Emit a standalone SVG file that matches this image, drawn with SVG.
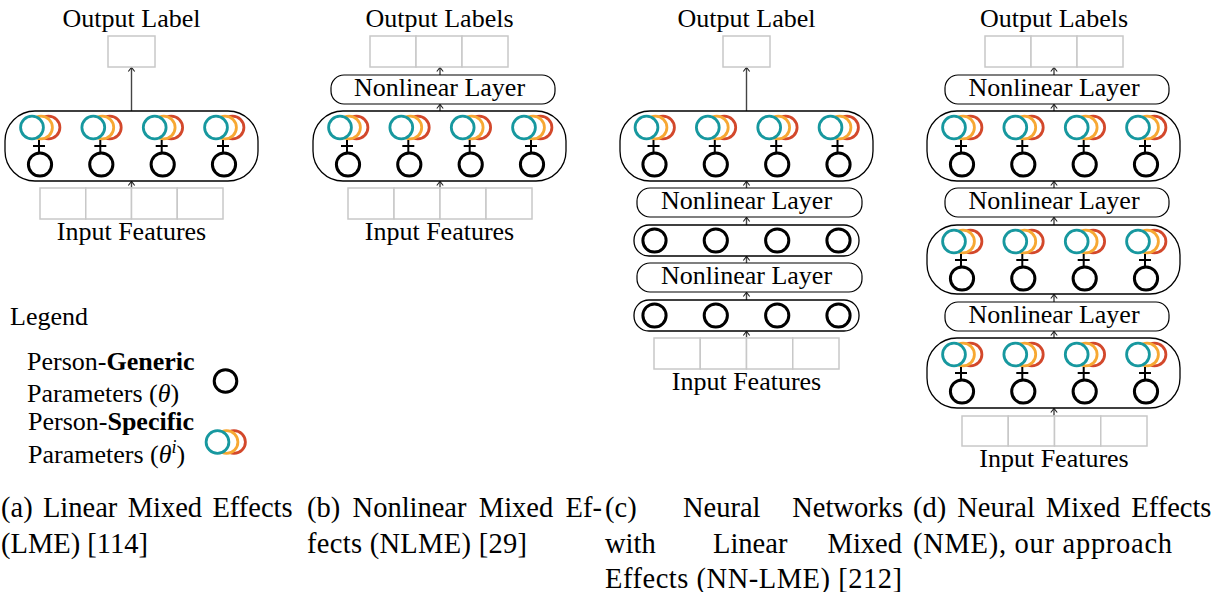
<svg xmlns="http://www.w3.org/2000/svg" xmlns:xlink="http://www.w3.org/1999/xlink" width="1217" height="592" viewBox="0 0 1217 592">
<style>
text{font-family:"Liberation Serif","Times New Roman",serif;fill:#000}
.lbl{font-size:26px;text-anchor:middle}
.leg{font-size:26px}
.cap{font-size:28.5px}
.box{fill:#fff;stroke:#c8c8c8;stroke-width:1.5}
.cap-shape{fill:#fff;stroke:#000;stroke-width:1.3}
.nl{fill:#fff;stroke:#000;stroke-width:1.2}
.arr{stroke:#444;stroke-width:1.4;fill:none;marker-end:url(#ah)}
.gen{fill:#fff;stroke:#000;stroke-width:3}
.t{fill:#fff;stroke:#17989f;stroke-width:2.8}
.o{fill:#fff;stroke:#f7a833;stroke-width:2.8}
.r{fill:#fff;stroke:#d3482b;stroke-width:2.8}
</style>
<defs>
<marker id="ah" viewBox="-6 -5 8 10" markerWidth="8" markerHeight="10" refX="0" refY="0" orient="auto" markerUnits="userSpaceOnUse">
<path d="M-4,-3.2 L0,0 L-4,3.2" fill="none" stroke="#222" stroke-width="1.1"/>
</marker>
<g id="spec">
<circle class="r" cx="8.5" cy="0" r="11.4"/>
<circle class="o" cx="1" cy="0" r="11.4"/>
<circle class="t" cx="-8" cy="0" r="11.4"/>
</g>
<g id="pair">
<use xlink:href="#spec" x="0" y="-37"/>
<line x1="-1" y1="-24.5" x2="-1" y2="-12" stroke="#000" stroke-width="2"/>
<line x1="-7" y1="-18.5" x2="5" y2="-18.5" stroke="#000" stroke-width="2"/>
<circle class="gen" cx="0" cy="0" r="11.6"/>
</g>
</defs>

<g id="connectors">
<line class="arr" x1="131.5" y1="111" x2="131.5" y2="67.5"/>
<line class="arr" x1="131.5" y1="219" x2="131.5" y2="181.5"/>
<line class="arr" x1="440" y1="75" x2="440" y2="67.5"/>
<line class="arr" x1="440" y1="111" x2="440" y2="104.5"/>
<line class="arr" x1="440" y1="219" x2="440" y2="181.5"/>
<line class="arr" x1="746.5" y1="111" x2="746.5" y2="67.5"/>
<line class="arr" x1="746.5" y1="188" x2="746.5" y2="181.5"/>
<line class="arr" x1="746.5" y1="225" x2="746.5" y2="217.5"/>
<line class="arr" x1="746.5" y1="263" x2="746.5" y2="256.5"/>
<line class="arr" x1="746.5" y1="300" x2="746.5" y2="292.5"/>
<line class="arr" x1="746.5" y1="369" x2="746.5" y2="331.5"/>
<line class="arr" x1="1054" y1="75" x2="1054" y2="67.5"/>
<line class="arr" x1="1054" y1="111" x2="1054" y2="104.5"/>
<line class="arr" x1="1054" y1="188" x2="1054" y2="181.5"/>
<line class="arr" x1="1054" y1="225" x2="1054" y2="217.5"/>
<line class="arr" x1="1054" y1="302" x2="1054" y2="294.5"/>
<line class="arr" x1="1054" y1="338" x2="1054" y2="331.5"/>
<line class="arr" x1="1054" y1="446" x2="1054" y2="408.5"/>
</g>

<!-- Panel (a) -->
<g id="a-output">
<text class="lbl" x="131.5" y="27">Output Label</text>
<rect class="box" x="108" y="36" width="47" height="31"/>
</g>
<g id="a-me">
<rect class="cap-shape" x="5" y="111" width="253" height="70" rx="30" ry="30"/>
<use xlink:href="#pair" x="40" y="164.5"/>
<use xlink:href="#pair" x="101.3" y="164.5"/>
<use xlink:href="#pair" x="162.7" y="164.5"/>
<use xlink:href="#pair" x="224" y="164.5"/>
</g>
<g id="a-input">
<rect class="box" x="40" y="188" width="45.75" height="31"/>
<rect class="box" x="85.75" y="188" width="45.75" height="31"/>
<rect class="box" x="131.5" y="188" width="45.75" height="31"/>
<rect class="box" x="177.25" y="188" width="45.75" height="31"/>
<text class="lbl" x="131.5" y="240">Input Features</text>
</g>

<!-- Panel (b) -->
<g id="b-output">
<text class="lbl" x="439.5" y="27">Output Labels</text>
<rect class="box" x="370" y="36" width="46" height="31"/>
<rect class="box" x="416" y="36" width="46" height="31"/>
<rect class="box" x="462" y="36" width="46" height="31"/>
</g>
<g id="b-nl">
<rect class="nl" x="331" y="75" width="224" height="29" rx="13"/>
<text class="lbl" x="439.5" y="96">Nonlinear Layer</text>
</g>
<g id="b-me">
<rect class="cap-shape" x="313" y="111" width="253" height="70" rx="30" ry="30"/>
<use xlink:href="#pair" x="348" y="164.5"/>
<use xlink:href="#pair" x="409.3" y="164.5"/>
<use xlink:href="#pair" x="470.7" y="164.5"/>
<use xlink:href="#pair" x="532" y="164.5"/>
</g>
<g id="b-input">
<rect class="box" x="348" y="188" width="46" height="31"/>
<rect class="box" x="394" y="188" width="46" height="31"/>
<rect class="box" x="440" y="188" width="46" height="31"/>
<rect class="box" x="486" y="188" width="46" height="31"/>
<text class="lbl" x="439.5" y="240">Input Features</text>
</g>

<!-- Panel (c) -->
<g id="c-output">
<text class="lbl" x="746.5" y="27">Output Label</text>
<rect class="box" x="723" y="36" width="47" height="31"/>
</g>
<g id="c-me">
<rect class="cap-shape" x="620" y="111" width="253" height="70" rx="30" ry="30"/>
<use xlink:href="#pair" x="654.5" y="164.5"/>
<use xlink:href="#pair" x="715.8" y="164.5"/>
<use xlink:href="#pair" x="777.2" y="164.5"/>
<use xlink:href="#pair" x="838.5" y="164.5"/>
</g>
<g id="c-nl1">
<rect class="nl" x="637" y="188" width="225" height="29" rx="13"/>
<text class="lbl" x="746.5" y="209">Nonlinear Layer</text>
</g>
<g id="c-gen1">
<rect class="cap-shape" x="634" y="225" width="225" height="31" rx="15"/>
<circle class="gen" cx="654.5" cy="240.5" r="11.6"/>
<circle class="gen" cx="715.8" cy="240.5" r="11.6"/>
<circle class="gen" cx="777.2" cy="240.5" r="11.6"/>
<circle class="gen" cx="838.5" cy="240.5" r="11.6"/>
</g>
<g id="c-nl2">
<rect class="nl" x="637" y="263" width="225" height="29" rx="13"/>
<text class="lbl" x="746.5" y="284">Nonlinear Layer</text>
</g>
<g id="c-gen2">
<rect class="cap-shape" x="634" y="300" width="225" height="31" rx="15"/>
<circle class="gen" cx="654.5" cy="315.5" r="11.6"/>
<circle class="gen" cx="715.8" cy="315.5" r="11.6"/>
<circle class="gen" cx="777.2" cy="315.5" r="11.6"/>
<circle class="gen" cx="838.5" cy="315.5" r="11.6"/>
</g>
<g id="c-input">
<rect class="box" x="654" y="338" width="46.25" height="31"/>
<rect class="box" x="700.25" y="338" width="46.25" height="31"/>
<rect class="box" x="746.5" y="338" width="46.25" height="31"/>
<rect class="box" x="792.75" y="338" width="46.25" height="31"/>
<text class="lbl" x="746.5" y="390">Input Features</text>
</g>

<!-- Panel (d) -->
<g id="d-output">
<text class="lbl" x="1054" y="27">Output Labels</text>
<rect class="box" x="985" y="36" width="46" height="31"/>
<rect class="box" x="1031" y="36" width="46" height="31"/>
<rect class="box" x="1077" y="36" width="46" height="31"/>
</g>
<g id="d-nl1">
<rect class="nl" x="945" y="75" width="224" height="29" rx="13"/>
<text class="lbl" x="1054" y="96">Nonlinear Layer</text>
</g>
<g id="d-me1">
<rect class="cap-shape" x="927" y="111" width="253" height="70" rx="30" ry="30"/>
<use xlink:href="#pair" x="962" y="164.5"/>
<use xlink:href="#pair" x="1023.3" y="164.5"/>
<use xlink:href="#pair" x="1084.7" y="164.5"/>
<use xlink:href="#pair" x="1146" y="164.5"/>
</g>
<g id="d-nl2">
<rect class="nl" x="945" y="188" width="224" height="29" rx="13"/>
<text class="lbl" x="1054" y="209">Nonlinear Layer</text>
</g>
<g id="d-me2">
<rect class="cap-shape" x="927" y="225" width="253" height="69" rx="30" ry="30"/>
<use xlink:href="#pair" x="962" y="278.5"/>
<use xlink:href="#pair" x="1023.3" y="278.5"/>
<use xlink:href="#pair" x="1084.7" y="278.5"/>
<use xlink:href="#pair" x="1146" y="278.5"/>
</g>
<g id="d-nl3">
<rect class="nl" x="945" y="302" width="224" height="29" rx="13"/>
<text class="lbl" x="1054" y="323">Nonlinear Layer</text>
</g>
<g id="d-me3">
<rect class="cap-shape" x="927" y="338" width="253" height="70" rx="30" ry="30"/>
<use xlink:href="#pair" x="962" y="391.5"/>
<use xlink:href="#pair" x="1023.3" y="391.5"/>
<use xlink:href="#pair" x="1084.7" y="391.5"/>
<use xlink:href="#pair" x="1146" y="391.5"/>
</g>
<g id="d-input">
<rect class="box" x="962" y="416" width="46.25" height="30"/>
<rect class="box" x="1008.25" y="416" width="46.25" height="30"/>
<rect class="box" x="1054.5" y="416" width="46.25" height="30"/>
<rect class="box" x="1100.75" y="416" width="46.25" height="30"/>
<text class="lbl" x="1054" y="467">Input Features</text>
</g>

<!-- Legend -->
<g id="legend">
<text class="leg" x="10" y="325">Legend</text>
<text class="leg" x="27" y="370">Person-<tspan font-weight="bold">Generic</tspan></text>
<text class="leg" x="27" y="402">Parameters (<tspan font-style="italic">θ</tspan>)</text>
<circle class="gen" cx="225.5" cy="381" r="11.3"/>
<text class="leg" x="28" y="430">Person-<tspan font-weight="bold">Specific</tspan></text>
<text class="leg" x="28" y="463">Parameters (<tspan font-style="italic">θ</tspan><tspan font-style="italic" font-size="18px" dy="-10">i</tspan><tspan dy="10">)</tspan></text>
<use xlink:href="#spec" x="225.5" y="442"/>
</g>

<!-- Captions -->
<g id="captions">
<text class="cap" x="1" y="516.5" word-spacing="3.2">(a) Linear Mixed Effects</text>
<text class="cap" x="1" y="552.5">(LME) [114]</text>
<text class="cap" x="307" y="516.5" word-spacing="5.2">(b) Nonlinear Mixed Ef-</text>
<text class="cap" x="307" y="552.5" textLength="220" lengthAdjust="spacing">fects (NLME) [29]</text>
<text class="cap" x="605" y="516.5">(c)</text>
<text class="cap" x="683" y="516.5">Neural</text>
<text class="cap" x="903" y="516.5" text-anchor="end">Networks</text>
<text class="cap" x="605" y="552.5">with</text>
<text class="cap" x="713" y="552.5">Linear</text>
<text class="cap" x="902" y="552.5" text-anchor="end">Mixed</text>
<text class="cap" x="605" y="588" textLength="297" lengthAdjust="spacing">Effects (NN-LME) [212]</text>
<text class="cap" x="913" y="516.5" word-spacing="3.9">(d) Neural Mixed Effects</text>
<text class="cap" x="913" y="552.5" textLength="259" lengthAdjust="spacing">(NME), our approach</text>
</g>
</svg>
